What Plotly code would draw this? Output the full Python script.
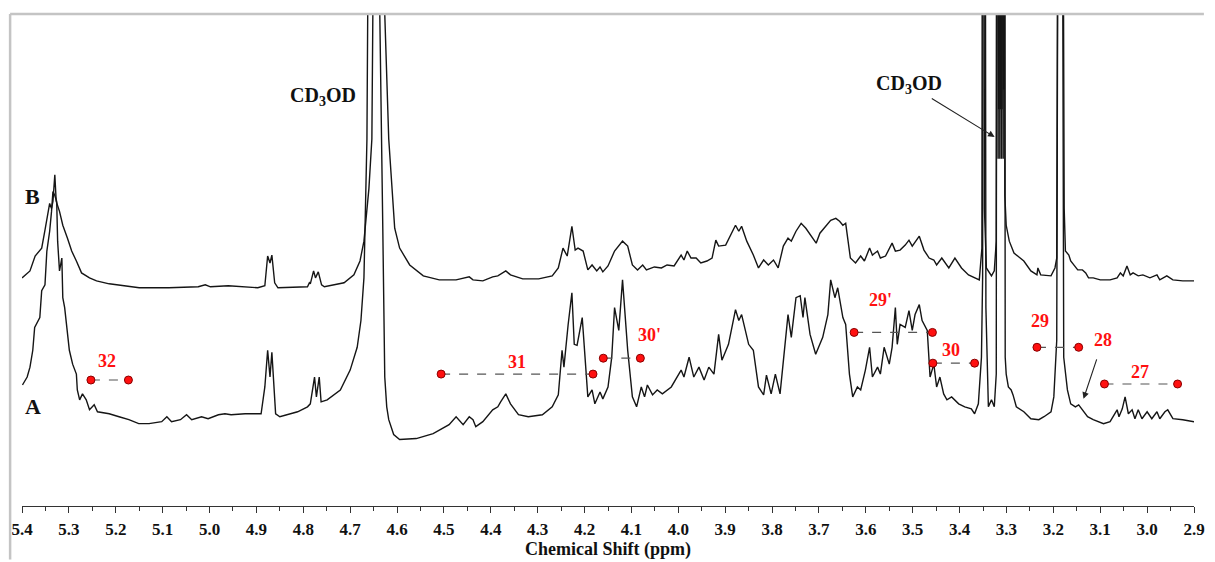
import plotly.graph_objects as go

# ---- 1H NMR spectra (chemical shift in ppm, relative intensity) ----
# Upper spectrum (B)
shift_b = [5.400, 5.389, 5.383, 5.372, 5.366, 5.358, 5.351, 5.345, 5.341, 5.337, 5.334, 5.330, 5.327,
           5.320, 5.313, 5.303, 5.294, 5.284, 5.273, 5.256, 5.241, 5.214, 5.178, 5.150, 5.087, 5.024,
           5.009, 4.998, 4.960, 4.897, 4.882, 4.876, 4.871, 4.867, 4.861, 4.854, 4.791, 4.787, 4.785,
           4.778, 4.774, 4.768, 4.761, 4.755, 4.713, 4.692, 4.679, 4.6706, 4.6600, 4.6537, 4.6516,
           4.6389, 4.6262, 4.6177, 4.6050, 4.5945, 4.573, 4.544, 4.510, 4.474,
           4.446, 4.438, 4.417, 4.396, 4.385, 4.368, 4.358, 4.332, 4.298, 4.269, 4.256, 4.246, 4.237,
           4.227, 4.220, 4.214, 4.203, 4.193, 4.184, 4.174, 4.167, 4.161, 4.150, 4.136, 4.119, 4.108,
           4.098, 4.087, 4.076, 4.068, 4.051, 4.036, 4.024, 4.009, 3.994, 3.988, 3.981, 3.973, 3.962,
           3.952, 3.939, 3.928, 3.920, 3.914, 3.899, 3.886, 3.878, 3.871, 3.865, 3.854, 3.840, 3.829,
           3.818, 3.808, 3.797, 3.787, 3.776, 3.766, 3.759, 3.749, 3.738, 3.728, 3.717, 3.706, 3.698,
           3.685, 3.675, 3.664, 3.656, 3.649, 3.643, 3.633, 3.622, 3.611, 3.603, 3.592, 3.586, 3.575,
           3.569, 3.558, 3.544, 3.537, 3.527, 3.516, 3.508, 3.501, 3.486, 3.476, 3.465, 3.455, 3.449,
           3.438, 3.423, 3.410, 3.396, 3.381, 3.368, 3.358,
           3.3524, 3.3497, 3.3471, 3.3429, 3.332, 3.326,
           3.3218, 3.3185, 3.3167, 3.3149, 3.3131, 3.3113, 3.3095, 3.3077, 3.3061, 3.3047, 3.3035,
           3.3006, 3.294, 3.284, 3.263, 3.248, 3.235, 3.233, 3.227, 3.205, 3.1966, 3.1928,
           3.1853, 3.1769, 3.1743, 3.167, 3.163, 3.148, 3.138, 3.131, 3.125, 3.115, 3.100, 3.079,
           3.064, 3.057, 3.051, 3.043, 3.036, 3.030, 3.019, 3.009, 2.994, 2.979, 2.973, 2.958, 2.945,
           2.924, 2.900]
int_b = [230, 234, 237, 252, 255, 260, 278, 297, 305, 300, 307, 334, 307,
         297, 283, 270, 257, 247, 235, 230, 227, 224, 222, 220, 220, 221,
         223, 221, 222, 220, 222, 252, 245, 253, 225, 220, 221, 225, 224,
         237, 230, 236, 223, 221, 225, 233, 247, 267, 320, 370, 496,
         1500, 496, 370, 280, 260, 243, 232, 228, 228,
         231, 228, 227, 231, 232, 237, 233, 229, 229, 232, 240, 260, 252,
         282, 258, 260, 257, 238, 243, 237, 241, 236, 242, 257, 267, 262,
         243, 238, 243, 238, 241, 240, 243, 242, 253, 248, 257, 250, 250,
         245, 247, 250, 268, 262, 263, 275, 283, 277, 282, 267, 253, 240,
         248, 243, 248, 240, 262, 270, 267, 277, 285, 280, 273, 265, 275,
         282, 288, 290, 287, 283, 285, 250, 245, 252, 247, 260, 253, 257,
         250, 252, 265, 257, 258, 263, 268, 262, 272, 258, 250, 248, 243,
         250, 240, 250, 240, 233, 230, 228,
         260, 1500, 300, 240, 232, 237,
         267, 1500, 400, 1500, 400, 1500, 400, 1500, 420, 1500, 313,
         283, 267, 255, 247, 237, 233, 240, 233, 232, 240, 250,
         1500, 300, 257, 253, 247, 238, 238, 235, 230, 230, 228, 228,
         230, 235, 232, 242, 233, 235, 232, 233, 230, 233, 228, 232, 228,
         227, 227]

# Lower spectrum (A)
shift_a = [5.399, 5.389, 5.383, 5.377, 5.373, 5.362, 5.358, 5.351, 5.347, 5.341, 5.337, 5.334, 5.330,
           5.326, 5.324, 5.320, 5.315, 5.313, 5.309, 5.305, 5.299, 5.292, 5.284, 5.282, 5.277, 5.271,
           5.263, 5.256, 5.246, 5.239, 5.214, 5.193, 5.172, 5.151, 5.129, 5.102, 5.091, 5.081, 5.062,
           5.049, 5.038, 5.017, 5.003, 4.981, 4.967, 4.954, 4.924, 4.890, 4.882, 4.876, 4.871, 4.867,
           4.859, 4.850, 4.812, 4.791, 4.785, 4.776, 4.772, 4.766, 4.762, 4.749, 4.721, 4.700, 4.685,
           4.677, 4.6706, 4.6642, 4.6621, 4.6494, 4.6368, 4.6325, 4.6304, 4.6262, 4.6220, 4.6177,
           4.6072, 4.5945, 4.559, 4.523, 4.489, 4.474, 4.468, 4.459, 4.446, 4.438, 4.432, 4.417,
           4.396, 4.385, 4.379, 4.368, 4.358, 4.341, 4.320, 4.290, 4.269, 4.256, 4.248, 4.244, 4.235,
           4.227, 4.222, 4.216, 4.205, 4.199, 4.193, 4.184, 4.178, 4.167, 4.161, 4.150, 4.142, 4.136,
           4.127, 4.119, 4.108, 4.098, 4.089, 4.079, 4.072, 4.066, 4.055, 4.045, 4.034, 4.015, 3.994,
           3.988, 3.977, 3.967, 3.956, 3.945, 3.935, 3.924, 3.914, 3.907, 3.893, 3.878, 3.871, 3.865,
           3.850, 3.840, 3.829, 3.818, 3.812, 3.802, 3.793, 3.783, 3.772, 3.766, 3.759, 3.749, 3.740,
           3.734, 3.730, 3.719, 3.707, 3.692, 3.681, 3.675, 3.666, 3.660, 3.649, 3.643, 3.635, 3.628,
           3.618, 3.611, 3.601, 3.592, 3.586, 3.575, 3.569, 3.561, 3.550, 3.544, 3.537, 3.533, 3.527,
           3.516, 3.508, 3.501, 3.495, 3.486, 3.480, 3.469, 3.463, 3.455, 3.449, 3.442, 3.434, 3.427,
           3.417, 3.402, 3.389, 3.375, 3.368, 3.360, 3.3534, 3.3509, 3.3475, 3.3439, 3.3386, 3.332,
           3.326, 3.3218, 3.3196, 3.3178, 3.3160, 3.3142, 3.3124, 3.3106, 3.3088, 3.3070, 3.3053,
           3.3027, 3.3006, 3.296, 3.290, 3.286,
           3.279, 3.263, 3.248, 3.231, 3.220, 3.205, 3.199, 3.1928, 3.1853, 3.1779, 3.170, 3.163,
           3.153, 3.146, 3.138, 3.127, 3.115, 3.093, 3.079, 3.072, 3.064, 3.060, 3.053, 3.047, 3.040,
           3.032, 3.026, 3.019, 3.011, 3.000, 2.990, 2.979, 2.973, 2.962, 2.956, 2.945, 2.924, 2.900]
int_a = [122, 130, 140, 157, 180, 190, 217, 223, 257, 277, 297, 317, 313,
         307, 267, 237, 250, 210, 200, 183, 157, 143, 133, 117, 107, 113,
         107, 97, 102, 95, 93, 90, 87, 83, 83, 85, 90, 85, 87,
         92, 87, 90, 88, 92, 93, 92, 93, 93, 120, 157, 130, 155,
         93, 90, 95, 100, 103, 130, 110, 130, 105, 107, 117, 137, 160,
         187, 230, 370, 496, 1500, 496, 370, 280, 130, 100, 87,
         72, 67, 68, 73, 82, 90, 87, 82, 90, 87, 80, 85,
         97, 100, 105, 113, 103, 92, 90, 92, 100, 112, 157, 140, 183,
         215, 163, 162, 190, 150, 110, 117, 103, 115, 108, 120, 150, 200,
         177, 228, 157, 110, 100, 120, 110, 122, 112, 117, 113, 120, 137,
         130, 150, 130, 140, 127, 140, 133, 173, 147, 163, 198, 187, 193,
         163, 157, 120, 112, 132, 113, 133, 113, 163, 193, 170, 210, 212,
         190, 210, 173, 153, 170, 193, 228, 210, 220, 190, 183, 133, 110,
         120, 117, 137, 160, 130, 140, 133, 160, 143, 160, 200, 163, 183,
         180, 197, 177, 193, 203, 187, 177, 130, 143, 120, 130, 113, 107,
         110, 103, 100, 98, 93, 103, 150, 230, 1500, 200, 100, 107,
         100, 133, 1500, 350, 1500, 350, 1500, 350, 1500, 350, 1500,
         150, 133, 120, 117, 112,
         100, 95, 88, 87, 90, 95, 110, 167, 1500, 150, 117, 103,
         100, 102, 97, 90, 87, 83, 85, 90, 97, 90, 98, 110, 93,
         97, 88, 97, 88, 95, 88, 95, 88, 95, 97, 88, 87, 85]

# ---- signal assignment ranges (ppm) drawn on spectrum A ----
assign_labels = ["32", "31", "30'", "29'", "30", "29", "27"]
assign_start = [5.253, 4.506, 4.160, 3.625, 3.457, 3.235, 3.091]
assign_end = [5.173, 4.182, 4.081, 3.458, 3.368, 3.146, 2.935]
assign_level = [127, 133, 149, 175, 144, 160, 123]
label_shift = [5.218, 4.344, 4.062, 3.569, 3.419, 3.229, 3.015]
label_level = [146, 145, 172, 208, 157, 187, 135]

SERIF = "Liberation Serif"
RED = "#ff1010"
INK = "#111111"

fig = go.Figure()

for xs, ys in ((shift_b, int_b), (shift_a, int_a)):
    fig.add_trace(go.Scatter(x=xs, y=ys, mode="lines",
                             line=dict(color="#151515", width=1.4),
                             hoverinfo="skip", showlegend=False))

for x0, x1, lvl in zip(assign_start, assign_end, assign_level):
    fig.add_trace(go.Scatter(x=[x0, x1], y=[lvl, lvl], mode="lines+markers",
                             line=dict(color="#555555", width=1.2, dash="dash"),
                             marker=dict(color=RED, size=8,
                                         line=dict(color="#8a0000", width=1)),
                             hoverinfo="skip", showlegend=False))

annotations = []
for txt, x, y in zip(assign_labels, label_shift, label_level):
    annotations.append(dict(x=x, y=y, xref="x", yref="y", text=f"<b>{txt}</b>",
                            showarrow=False,
                            font=dict(family=SERIF, size=18, color=RED)))

# trace labels
annotations.append(dict(x=5.377, y=312, xref="x", yref="y", text="<b>B</b>", showarrow=False,
                        font=dict(family=SERIF, size=22, color=INK)))
annotations.append(dict(x=5.377, y=100, xref="x", yref="y", text="<b>A</b>", showarrow=False,
                        font=dict(family=SERIF, size=22, color=INK)))

# solvent labels (the second one points at the 3.31 ppm residual signal)
annotations.append(dict(x=4.759, y=413, xref="x", yref="y", text="<b>CD<sub>3</sub>OD</b>",
                        showarrow=False, font=dict(family=SERIF, size=20, color=INK)))
annotations.append(dict(x=3.3253, y=372, ax=3.508, ay=425, xref="x", yref="y",
                        axref="x", ayref="y", text="<b>CD<sub>3</sub>OD</b>",
                        font=dict(family=SERIF, size=20, color=INK),
                        showarrow=True, arrowhead=2, arrowsize=1.2, arrowwidth=1.1,
                        arrowcolor="#222", standoff=0))

# signal 28 with its pointer
annotations.append(dict(x=3.1357, y=108, ax=3.094, ay=167, xref="x", yref="y",
                        axref="x", ayref="y", text="<b>28</b>",
                        font=dict(family=SERIF, size=18, color=RED),
                        showarrow=True, arrowhead=2, arrowsize=1.2, arrowwidth=1.1,
                        arrowcolor="#222", standoff=0, startstandoff=8))

W, H = 1215, 562
ML, MR, MT, MB = 22, 10, 14, 52
pw = W - ML - MR
ph = H - MT - MB
frame_x = (10 - ML) / pw

fig.update_layout(
    width=W, height=H,
    margin=dict(l=ML, r=MR, t=MT, b=MB, pad=0),
    paper_bgcolor="white", plot_bgcolor="white",
    annotations=annotations,
    shapes=[
        dict(type="line", xref="paper", yref="paper", x0=frame_x, x1=(W - ML) / pw,
             y0=1, y1=1, line=dict(color="#c4c4c4", width=2.5)),
        dict(type="line", xref="paper", yref="paper", x0=frame_x, x1=frame_x,
             y0=1, y1=-(MB + 2) / ph, line=dict(color="#c4c4c4", width=2.5)),
    ],
)

fig.update_xaxes(
    range=[5.4, 2.9], autorange=False,
    tick0=0, dtick=0.1, tickformat=".1f",
    ticks="outside", ticklen=6, tickwidth=1, tickcolor="#333",
    minor=dict(dtick=0.05, ticks="outside", ticklen=4, tickcolor="#333", showgrid=False),
    showline=True, linecolor="#333", linewidth=1,
    showgrid=False, zeroline=False,
    ticklabelstandoff=2, ticklabeloverflow="allow",
    tickfont=dict(family=SERIF, size=17, color=INK, weight="bold"),
    title=dict(text="Chemical Shift (ppm)", standoff=0,
               font=dict(family=SERIF, size=18, color=INK, weight="bold")),
)
fig.update_yaxes(range=[0, ph], autorange=False, visible=False,
                 showgrid=False, zeroline=False)

fig.write_html("out.html")
